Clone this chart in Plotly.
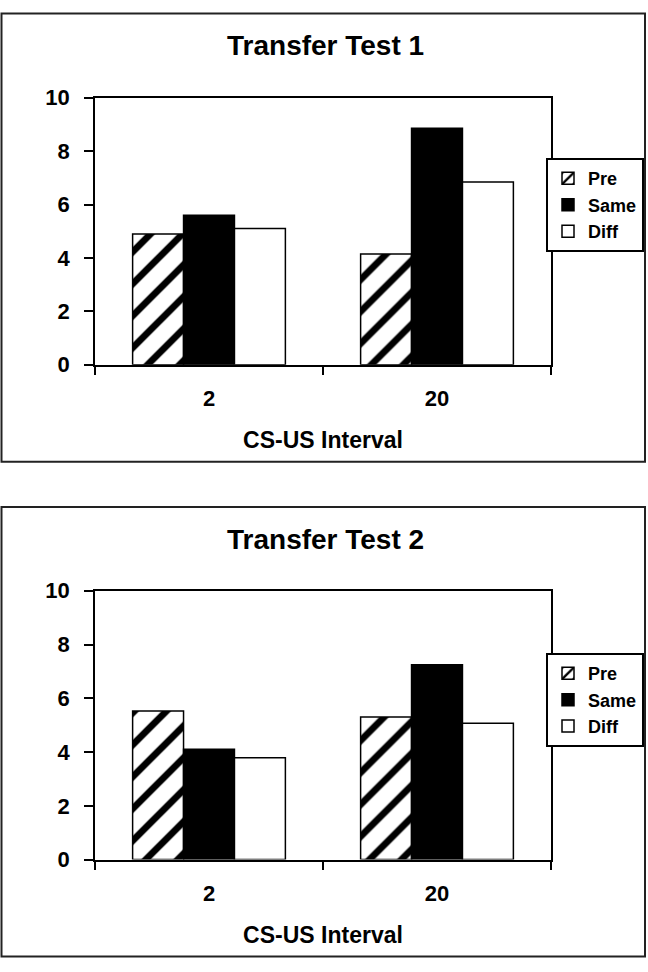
import plotly.graph_objects as go

# ---- data ----
categories = ["2", "20"]
series_names = ["Pre", "Same", "Diff"]
test1_pre = [4.90, 4.15]
test1_same = [5.60, 8.86]
test1_diff = [5.10, 6.84]
test2_pre = [5.53, 5.30]
test2_same = [4.10, 7.25]
test2_diff = [3.79, 5.07]
y_ticks = [0, 2, 4, 6, 8, 10]
titles = ["Transfer Test 1", "Transfer Test 2"]
x_title = "CS-US Interval"

W, H = 648, 972
FONT = "Liberation Sans, Arial, Helvetica, sans-serif"


def px_x(x):
    return x / W


def px_y(y):
    return 1 - y / H


fig = go.Figure()

styles = {
    "Pre": dict(color="white", pattern=dict(shape="/", fgcolor="black", bgcolor="white",
                                            size=22.6, solidity=0.3, fillmode="replace")),
    "Same": dict(color="black"),
    "Diff": dict(color="white"),
}

panels = [
    (test1_pre, test1_same, test1_diff, "x", "y", "legend"),
    (test2_pre, test2_same, test2_diff, "x2", "y2", "legend2"),
]
for pre, same, diff, xa, ya, lg in panels:
    for name, vals in zip(series_names, [pre, same, diff]):
        m = dict(styles[name])
        m["line"] = dict(color="black", width=1.5)
        fig.add_trace(go.Bar(x=categories, y=vals, name=name, marker=m,
                             xaxis=xa, yaxis=ya, legend=lg))

axis_font = dict(family=FONT, size=22, color="black", weight="bold")

common_x = dict(
    domain=[px_x(95), px_x(551)],
    type="category",
    showline=True, linecolor="black", linewidth=1.5, mirror=True,
    ticks="outside", tickson="boundaries", ticklen=9, tickwidth=1.5, tickcolor="black",
    tickfont=axis_font, ticklabelstandoff=13,
    showgrid=False, zeroline=False,
    title=dict(text=x_title, font=dict(family=FONT, size=23, color="black", weight="bold"),
               standoff=22),
)
common_y = dict(
    range=[0, 10], tickvals=y_ticks,
    showline=True, linecolor="black", linewidth=1.5, mirror=True,
    ticks="outside", ticklen=9, tickwidth=1.5, tickcolor="black",
    tickfont=axis_font, ticklabelstandoff=10,
    showgrid=False, zeroline=False,
)

fig.update_layout(
    width=W, height=H,
    margin=dict(l=0, r=0, t=0, b=0),
    paper_bgcolor="white", plot_bgcolor="white",
    barmode="group", bargap=0.33, bargroupgap=0,
    font=dict(family=FONT, color="black"),
    xaxis=dict(common_x, anchor="y"),
    yaxis=dict(common_y, domain=[px_y(362), px_y(88)], anchor="x"),
    xaxis2=dict(common_x, anchor="y2"),
    yaxis2=dict(common_y, domain=[px_y(870), px_y(594)], anchor="x2"),
    legend=dict(x=px_x(644), y=px_y(150), xanchor="right", yanchor="top",
                bordercolor="black", borderwidth=2, bgcolor="white",
                font=dict(family=FONT, size=18, color="black", weight="bold"),
                itemwidth=30, tracegroupgap=0),
    legend2=dict(x=px_x(644), y=px_y(658), xanchor="right", yanchor="top",
                 bordercolor="black", borderwidth=2, bgcolor="white",
                 font=dict(family=FONT, size=18, color="black", weight="bold"),
                 itemwidth=30, tracegroupgap=0),
    showlegend=True,
)

# panel titles
for t, yc in zip(titles, [34.5, 541]):
    fig.add_annotation(text=t, xref="paper", yref="paper", x=px_x(325), y=px_y(yc),
                       xanchor="center", yanchor="middle", showarrow=False,
                       font=dict(family=FONT, size=28, color="black", weight="bold"))

# panel frames
for y0, y1 in [(1.5, 461.5), (508, 969.5)]:
    fig.add_shape(type="rect", xref="paper", yref="paper",
                  x0=px_x(1.5), x1=px_x(645), y0=px_y(y1), y1=px_y(y0),
                  line=dict(color="#222", width=2), fillcolor="rgba(0,0,0,0)")

css_js = (
    "var s=document.createElement('style');"
    "s.innerHTML='html,body{margin:0;padding:0;overflow:hidden;width:648px;height:972px}';"
    "document.head.appendChild(s);"
)
fig.write_html("out.html", config={"displayModeBar": False}, post_script=css_js)
